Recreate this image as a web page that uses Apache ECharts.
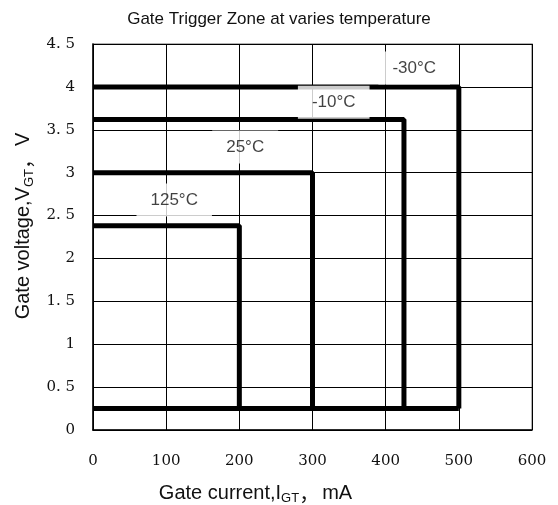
<!DOCTYPE html>
<html>
<head>
<meta charset="utf-8">
<script src="https://cdn.jsdelivr.net/npm/echarts@6/dist/echarts.min.js"></script>
<style>html,body{margin:0;padding:0;background:#fff;}#c{width:558px;height:505px;}</style>
</head>
<body>
<div id="c"></div>
<script>
// ---- data ----
const tempLabels = ['125°C', '25°C', '-10°C', '-30°C'];
const igtMax = [200, 300, 425, 500];      // mA
const vgtMax = [2.38, 3.0, 3.62, 4.0];    // V
const vgtMin = 0.25;                      // V
const labelAnchorX = [111, 208, 329, 439];
const labelAnchorY = [2.68, 3.30, 3.82, 4.22];
const xTicks = [0, 100, 200, 300, 400, 500, 600];
const yTicks = [0, 0.5, 1, 1.5, 2, 2.5, 3, 3.5, 4, 4.5];

const chart = echarts.init(document.getElementById('c'));
const series = [];
tempLabels.forEach((t, i) => {
  series.push({
    type: 'line', name: t, showSymbol: false, symbol: 'none', z: 3,
    lineStyle: { color: '#000', width: 5 },
    data: [[0, vgtMax[i]], [igtMax[i], vgtMax[i]], [igtMax[i], vgtMin]]
  });
});
series.push({
  type: 'line', name: 'base', symbol: 'none', z: 3,
  lineStyle: { color: '#000', width: 5 },
  data: [[0, vgtMin], [Math.max(...igtMax), vgtMin]]
});
series.push({
  type: 'scatter', symbolSize: 0, z: 10,
  data: tempLabels.map((t, i) => ({ value: [labelAnchorX[i], labelAnchorY[i]], name: t })),
  label: {
    show: true, position: 'inside', formatter: p => p.name,
    fontFamily: 'Liberation Sans, Arial', fontSize: 17, color: '#111',
    backgroundColor: '#fff', padding: [8, 14, 8, 14]
  },
  emphasis: { disabled: true }
});

const subStyle = { fontSize: 13, fontFamily: 'Liberation Sans, Arial', padding: [10, 0, 0, 0], color: '#111' };
const commaStyle = { fontSize: 20, fontFamily: 'Noto Sans CJK SC', padding: [0, 3, 0, 0], color: '#111' };

chart.setOption({
  animation: false,
  backgroundColor: '#fff',
  title: {
    text: 'Gate Trigger Zone at varies temperature', left: 'center', top: 6,
    textStyle: { fontFamily: 'Liberation Sans, Arial', fontSize: 17, fontWeight: 'normal', color: '#111' }
  },
  grid: { left: 93, right: 26, top: 44, bottom: 75, show: true, borderColor: '#999', borderWidth: 1.5,
    containLabel: false, outerBoundsMode: 'none' },
  xAxis: {
    type: 'value', min: 0, max: 600, interval: 100,
    axisLine: { show: true, lineStyle: { color: '#000', width: 1.5 } },
    axisTick: { show: false },
    splitLine: { show: true, lineStyle: { color: '#000', width: 1 } },
    axisLabel: { margin: 24, fontFamily: 'DejaVu Serif, Liberation Serif', fontSize: 15, color: '#111' },
    name: 'Gate current,I{sub|GT}{c|，}mA', nameLocation: 'middle', nameGap: 52,
    nameTextStyle: { fontFamily: 'Liberation Sans, Arial', fontSize: 20, color: '#111', padding: [0, 114, 0, 0],
      rich: { sub: subStyle, c: commaStyle } }
  },
  yAxis: {
    type: 'value', min: 0, max: 4.5, interval: 0.5,
    axisLine: { show: true, lineStyle: { color: '#000', width: 1.5 } },
    axisTick: { show: false },
    splitLine: { show: true, lineStyle: { color: '#000', width: 1 } },
    axisLabel: { margin: 18, fontFamily: 'DejaVu Serif, Liberation Serif', fontSize: 15, color: '#111',
      formatter: v => String(v).replace('.', '. ') },
    name: 'Gate voltage,V{sub|GT}{c|，}V', nameLocation: 'middle', nameGap: 57, nameRotate: 90,
    nameTextStyle: { fontFamily: 'Liberation Sans, Arial', fontSize: 20, color: '#111', padding: [0, 0, 0, 22],
      rich: { sub: subStyle, c: commaStyle } }
  },
  series
});
</script>
</body>
</html>
